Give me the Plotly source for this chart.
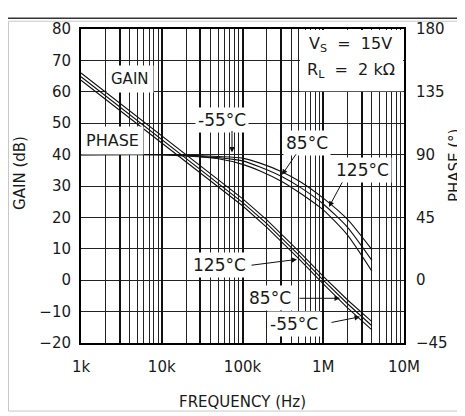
import plotly.graph_objects as go

# Open-loop gain / phase vs frequency, three temperatures
gain_freq = [1e3, 2e3, 5e3, 1e4, 2e4, 5e4, 1e5, 2e5, 5e5, 1e6, 2e6, 4e6]
gain_m55 = [66.0, 60.0, 52.0, 46.0, 40.0, 32.0, 26.0, 19.2, 9.2, 1.2, -6.3, -13.2]
gain_85 = [64.8, 58.8, 50.8, 44.8, 38.8, 30.8, 24.8, 18.0, 8.0, 0.0, -7.5, -14.5]
gain_125 = [63.7, 57.7, 49.7, 43.7, 37.7, 29.7, 23.7, 16.8, 6.8, -1.2, -8.8, -15.8]

phase_freq = [1e3, 1e4, 2e4, 5e4, 1e5, 1.65e5, 3.1e5, 5.2e5, 1e6, 2e6, 4e6]
phase_m55 = [90, 90, 89.6, 88.6, 87.5, 83.9, 77.6, 70.6, 58.8, 43.5, 21.9]
phase_85 = [90, 90, 89.3, 87.8, 85.5, 81.1, 74.1, 66.5, 54.6, 37.9, 14.2]
phase_125 = [90, 90, 89.0, 87.0, 83.0, 78.3, 70.6, 62.3, 50.4, 32.3, 6.5]

x_ticks = [1e3, 1e4, 1e5, 1e6, 1e7]
x_labels = ["1k", "10k", "100k", "1M", "10M"]
gain_ticks = [-20, -10, 0, 10, 20, 30, 40, 50, 60, 70, 80]
phase_ticks = [-45, 0, 45, 90, 135, 180]

FONT = "DejaVu Sans"
INK = "#1a1a1a"
OFF = 8  # page body margin
W, H = 465 - OFF, 416 - OFF
L, R, T, B = 81 - OFF, 61, 20 - OFF, 73
PW, PH = W - L - R, H - T - B


def px(x, y):
    # page pixel position -> paper coords
    return (x - OFF - L) / PW, (H - B - (y - OFF)) / PH


minor_grid = [m * 10 ** e for e in range(3, 7) for m in range(1, 10)] + [1e7]
major_grid = [m * 10 ** e for e in range(3, 7) for m in (1, 3)] + [1e7]

fig = go.Figure()
for g in (gain_m55, gain_85, gain_125):
    fig.add_trace(go.Scatter(x=gain_freq, y=g, mode="lines",
                             line=dict(color="#111", width=1.1),
                             xaxis="x", yaxis="y"))
for p in (phase_m55, phase_85, phase_125):
    fig.add_trace(go.Scatter(x=phase_freq, y=p, mode="lines",
                             line=dict(color="#111", width=1.1, shape="spline", smoothing=0.6),
                             xaxis="x2", yaxis="y2"))

tickfont = dict(family=FONT, size=15, color=INK)

fig.update_layout(
    width=W, height=H, autosize=False,
    margin=dict(l=L, r=R, t=T, b=B),
    paper_bgcolor="white", plot_bgcolor="white",
    showlegend=False,
    font=dict(family=FONT, size=15, color=INK),
    xaxis=dict(
        type="log", range=[3, 7],
        tickvals=minor_grid,
        ticktext=[x_labels[x_ticks.index(v)] if v in x_ticks else "" for v in minor_grid],
        tickfont=tickfont, ticks="outside", ticklen=9, tickcolor="rgba(0,0,0,0)",
        showgrid=True, gridcolor="#222", gridwidth=1,
        showline=True, linecolor="black", linewidth=2, mirror=True,
        zeroline=False,
    ),
    xaxis2=dict(
        type="log", range=[3, 7], overlaying="x", anchor="y",
        tickvals=major_grid, showticklabels=False, ticks="",
        showgrid=True, gridcolor="#111", gridwidth=2, zeroline=False,
    ),
    yaxis=dict(
        range=[-20, 80], tickvals=gain_ticks,
        tickfont=tickfont, ticks="outside", ticklen=5, tickcolor="rgba(0,0,0,0)",
        showgrid=True, gridcolor="#222", gridwidth=1,
        showline=True, linecolor="black", linewidth=2, mirror=True,
        zeroline=False,
    ),
    yaxis2=dict(
        range=[-45, 180], tickvals=phase_ticks, overlaying="y", side="right",
        anchor="x", tickfont=tickfont, ticks="outside", ticklen=8,
        tickcolor="rgba(0,0,0,0)", showgrid=False, zeroline=False,
    ),
)

shapes = []
# white box behind the conditions text
x0, y0 = px(300, 84)
x1, y1 = px(403, 21)
shapes.append(dict(type="rect", xref="paper", yref="paper", x0=x0, y0=y0, x1=x1, y1=y1,
                   fillcolor="white", line_width=0, layer="above"))
# page rules around the figure
a, b = px(0, 9)
c, _ = px(480, 9)
shapes.append(dict(type="line", xref="paper", yref="paper", x0=a, y0=b, x1=c, y1=b,
                   line=dict(color="#333", width=1.5)))
a, b = px(8.5, 413)
c, d = px(480, 12)
shapes.append(dict(type="rect", xref="paper", yref="paper", x0=a, y0=b, x1=c, y1=d,
                   line=dict(color="#c8c8c8", width=1)))
fig.update_layout(shapes=shapes)


def label(text, x, y, size=17, pad=3, angle=0, bg="white"):
    xp, yp = px(x, y)
    fig.add_annotation(text=text, x=xp, y=yp, xref="paper", yref="paper",
                       xanchor="center", yanchor="middle",
                       showarrow=False, textangle=angle, bgcolor=bg, borderpad=pad,
                       font=dict(family=FONT, size=size, color=INK))


def arrow(tip_x, tip_y, tail_x, tail_y):
    xp, yp = px(tip_x, tip_y)
    fig.add_annotation(text="", x=xp, y=yp, xref="paper", yref="paper",
                       showarrow=True, ax=tail_x - tip_x, ay=tail_y - tip_y,
                       arrowhead=2, arrowsize=1.1, arrowwidth=1, arrowcolor="#111")


label("GAIN", 130, 71, size=15, pad=4)
label("PHASE", 112, 135, size=16, pad=4)
label("-55°C", 222, 114, pad=2)
label("85°C", 307, 137, pad=2)
label("125°C", 362, 165, pad=2)
label("125°C", 219, 263, pad=2)
label("85°C", 270, 297, pad=2)
label("-55°C", 294, 323, pad=2)
label("V<sub>S</sub>  =  15V", 350, 36, size=16, pad=0, bg="rgba(0,0,0,0)")
label("R<sub>L</sub>  =  2 kΩ", 351, 63, size=16, pad=0, bg="rgba(0,0,0,0)")

arrow(232, 147, 232, 124)
arrow(282, 170, 297, 148)
arrow(329, 203, 343, 177)
arrow(297, 257, 250, 263)
arrow(340, 297, 298, 297)
arrow(360, 316, 330, 322)

label("GAIN (dB)", 20, 168, size=15, pad=0, angle=-90, bg="rgba(0,0,0,0)")
label("PHASE (°)", 455, 160, size=15, pad=0, angle=-90, bg="rgba(0,0,0,0)")
label("FREQUENCY (Hz)", 242, 404, size=15, pad=0, bg="rgba(0,0,0,0)")

fig.write_html("out.html")
